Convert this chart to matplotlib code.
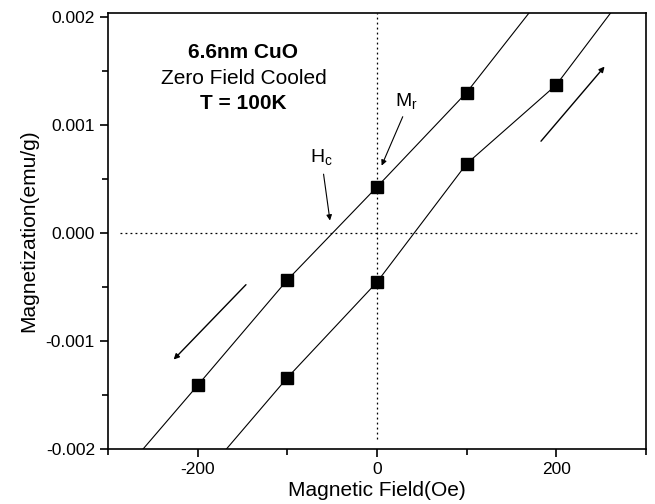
import matplotlib
matplotlib.use("Agg")
import matplotlib.pyplot as plt
from matplotlib.ticker import MultipleLocator, FuncFormatter

plt.rcParams['font.family'] = ['Liberation Sans', 'DejaVu Sans']

down_field = [-200, -100, 0, 100]
down_mag = [-0.00141, -0.000435, 0.000426, 0.00130]
up_field = [-100, 0, 100, 200]
up_mag = [-0.00134, -0.000455, 0.00064, 0.00137]

# drawn lines incl. their extensions to the frame
down_line_x = [-261, -200, -100, 0, 100, 170]
down_line_y = [-0.002, -0.00141, -0.000435, 0.000426, 0.00130, 0.00204]
up_line_x = [-168, -100, 0, 100, 200, 261]
up_line_y = [-0.002, -0.00134, -0.000455, 0.00064, 0.00137, 0.00204]

fig = plt.figure(figsize=(6.55, 5.04), dpi=100)
ax = fig.add_axes([0.165, 0.109, 0.821, 0.866])

ax.plot(down_line_x, down_line_y, color='black', lw=0.8)
ax.plot(up_line_x, up_line_y, color='black', lw=0.8)
ax.plot(down_field, down_mag, 's', color='black', ms=9)
ax.plot(up_field, up_mag, 's', color='black', ms=9)

# dotted zero lines
ax.plot([-287, 290], [0, 0], color='black', lw=0.9, ls=(0, (1.5, 2.5)))
ax.plot([0, 0], [-0.00191, 0.00204], color='black', lw=0.9, ls=(0, (1.5, 2.5)))

ax.set_xlim(-300, 300)
ax.set_ylim(-0.002, 0.00204)

ax.xaxis.set_major_locator(MultipleLocator(200))
ax.xaxis.set_minor_locator(MultipleLocator(100))
ax.yaxis.set_major_locator(MultipleLocator(0.001))
ax.yaxis.set_minor_locator(MultipleLocator(0.0005))
ax.xaxis.set_major_formatter(FuncFormatter(lambda v, p: f"{v:.0f}"))
ax.yaxis.set_major_formatter(FuncFormatter(lambda v, p: f"{v:.3f}"))
ax.tick_params(which='both', direction='out', labelsize=12.5, width=1.2)
ax.tick_params(which='major', length=6)
ax.tick_params(which='minor', length=4)
for s in ax.spines.values():
    s.set_linewidth(1.2)

ax.set_xlabel('Magnetic Field(Oe)', fontsize=15, labelpad=3)
ax.set_ylabel('Magnetization(emu/g)', fontsize=15, labelpad=5)

tx = -149
ax.text(tx, 0.00167, '6.6nm CuO', ha='center', va='center', fontsize=15, fontweight='bold')
ax.text(tx, 0.00143, 'Zero Field Cooled', ha='center', va='center', fontsize=15)
ax.text(tx, 0.00120, 'T = 100K', ha='center', va='center', fontsize=15, fontweight='bold')

# Hc and Mr annotations
ax.annotate('', xy=(-52, 0.00009), xytext=(-60, 0.00057),
            arrowprops=dict(arrowstyle='-|>', color='black', lw=0.8, mutation_scale=8))
ax.text(-62, 0.00070, r'H$_\mathregular{c}$', fontsize=14, ha='center', va='center')
ax.annotate('', xy=(4, 0.00060), xytext=(30, 0.00110),
            arrowprops=dict(arrowstyle='-|>', color='black', lw=0.8, mutation_scale=8))
ax.text(33, 0.00121, r'M$_\mathregular{r}$', fontsize=14, ha='center', va='center')

# sweep direction arrows
ax.annotate('', xy=(256, 0.00156), xytext=(181, 0.00083),
            arrowprops=dict(arrowstyle='-|>', color='black', lw=1.0, mutation_scale=8))
ax.annotate('', xy=(-229, -0.00119), xytext=(-144, -0.00046),
            arrowprops=dict(arrowstyle='-|>', color='black', lw=1.0, mutation_scale=8))

fig.savefig('out.png', dpi=100)
